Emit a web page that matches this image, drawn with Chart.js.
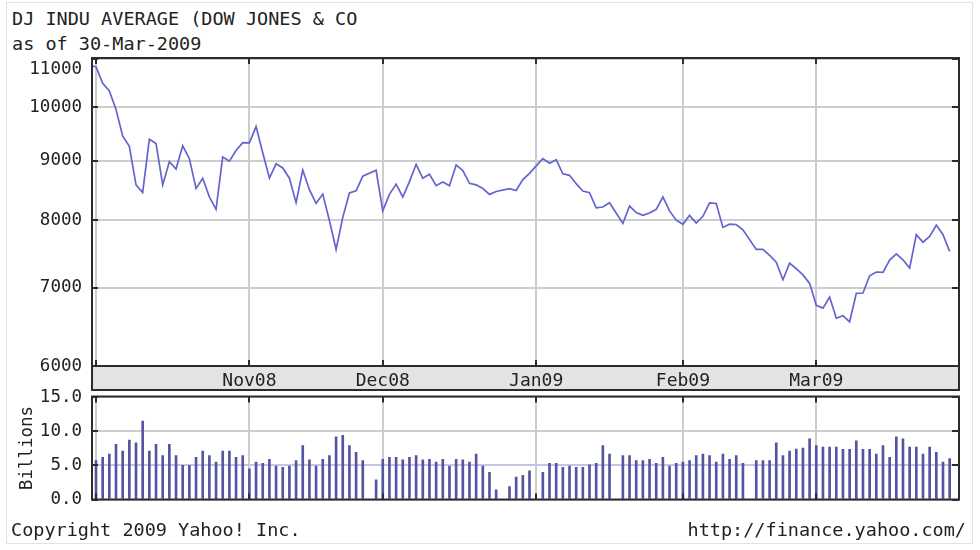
<!DOCTYPE html>
<html>
<head>
<meta charset="utf-8">
<title>DJ INDU AVERAGE</title>
<script src="https://cdn.jsdelivr.net/npm/chart.js@4.4.1/dist/chart.umd.min.js"></script>
<style>
  html, body { margin: 0; padding: 0; background: #fff; }
  body { width: 980px; height: 550px; position: relative; overflow: hidden;
         font-family: "DejaVu Sans Mono", monospace; color: #222; }
  .box { position: absolute; left: 6px; top: 2px; width: 965px; height: 540px; border: 1px solid #e2e2e2; }
  .txt { position: absolute; font-size: 18.5px; line-height: 22px; white-space: pre; }
  canvas { position: absolute; left: 0; }
</style>
</head>
<body>
<div class="box"></div>
<div class="txt" style="left:12px; top:8px;">DJ INDU AVERAGE (DOW JONES &amp; CO</div>
<div class="txt" style="left:12px; top:33px;">as of 30-Mar-2009</div>
<canvas id="price" width="980" height="392" style="top:0;"></canvas>
<canvas id="volume" width="980" height="144" style="top:376px;"></canvas>
<div class="txt" style="left:11px; top:519px;">Copyright 2009 Yahoo! Inc.</div>
<div class="txt" style="right:14px; top:519px;">http://finance.yahoo.com/</div>

<script>
// trading days shown (Sep 30 sits just left of the frame)
const tradeDays = [
  '2008-09-30',
  '2008-10-01','2008-10-02','2008-10-03','2008-10-06','2008-10-07','2008-10-08','2008-10-09','2008-10-10',
  '2008-10-13','2008-10-14','2008-10-15','2008-10-16','2008-10-17','2008-10-20','2008-10-21','2008-10-22',
  '2008-10-23','2008-10-24','2008-10-27','2008-10-28','2008-10-29','2008-10-30','2008-10-31',
  '2008-11-03','2008-11-04','2008-11-05','2008-11-06','2008-11-07','2008-11-10','2008-11-11','2008-11-12',
  '2008-11-13','2008-11-14','2008-11-17','2008-11-18','2008-11-19','2008-11-20','2008-11-21','2008-11-24',
  '2008-11-25','2008-11-26','2008-11-28',
  '2008-12-01','2008-12-02','2008-12-03','2008-12-04','2008-12-05','2008-12-08','2008-12-09','2008-12-10',
  '2008-12-11','2008-12-12','2008-12-15','2008-12-16','2008-12-17','2008-12-18','2008-12-19','2008-12-22',
  '2008-12-23','2008-12-24','2008-12-26','2008-12-29','2008-12-30','2008-12-31',
  '2009-01-02','2009-01-05','2009-01-06','2009-01-07','2009-01-08','2009-01-09','2009-01-12','2009-01-13',
  '2009-01-14','2009-01-15','2009-01-16','2009-01-20','2009-01-21','2009-01-22','2009-01-23','2009-01-26',
  '2009-01-27','2009-01-28','2009-01-29','2009-01-30',
  '2009-02-02','2009-02-03','2009-02-04','2009-02-05','2009-02-06','2009-02-09','2009-02-10','2009-02-11',
  '2009-02-12','2009-02-13','2009-02-17','2009-02-18','2009-02-19','2009-02-20','2009-02-23','2009-02-24',
  '2009-02-25','2009-02-26','2009-02-27',
  '2009-03-02','2009-03-03','2009-03-04','2009-03-05','2009-03-06','2009-03-09','2009-03-10','2009-03-11',
  '2009-03-12','2009-03-13','2009-03-16','2009-03-17','2009-03-18','2009-03-19','2009-03-20','2009-03-23',
  '2009-03-24','2009-03-25','2009-03-26','2009-03-27','2009-03-30'
];

const closes = [
  10851,
  10831, 10482, 10325, 9955, 9447, 9258, 8579, 8451,
  9387, 9310, 8577, 8979, 8852, 9265, 9033, 8519,
  8691, 8378, 8175, 9065, 8990, 9180, 9325,
  9319, 9625, 9139, 8695, 8943, 8870, 8693, 8283,
  8835, 8497, 8273, 8424, 7997, 7552, 8046, 8443,
  8479, 8726, 8829,
  8149, 8419, 8591, 8376, 8635, 8934, 8691, 8761,
  8565, 8629, 8564, 8924, 8824, 8604, 8579, 8519,
  8419, 8468, 8515, 8483, 8668, 8776,
  9034, 8952, 9015, 8769, 8742, 8599, 8474, 8448,
  8200, 8212, 8281, 7949, 8228, 8123, 8077, 8116,
  8174, 8376, 8149, 8001,
  7936, 8078, 7956, 8063, 8280, 8270, 7888, 7939,
  7933, 7850, 7552, 7555, 7466, 7365, 7114, 7351,
  7270, 7182, 7063,
  6763, 6726, 6876, 6594, 6627, 6547, 6926, 6930,
  7170, 7223, 7217, 7395, 7486, 7400, 7279, 7776,
  7660, 7750, 7924, 7776, 7522
];

// volume, billions of shares
const volumes = [
  null,
  5.7, 6.2, 6.65, 8.1, 7.1, 8.7, 8.3, 11.5,
  7.1, 8.1, 6.45, 8.1, 6.45, 5.0, 5.0, 6.2,
  7.1, 6.45, 5.5, 7.1, 7.1, 6.2, 6.45,
  4.5, 5.5, 5.3, 5.9, 4.9, 4.7, 4.9, 5.7,
  7.9, 5.8, 4.9, 5.9, 6.45, 9.2, 9.4, 7.9,
  6.9, 5.7, 2.9,
  5.9, 6.2, 6.2, 5.8, 6.2, 6.45, 5.8, 5.9,
  5.5, 5.9, 4.9, 5.9, 5.8, 5.5, 6.65, 4.9,
  4.0, 1.4, 1.9, 3.3, 3.55, 4.2,
  4.0, 5.3, 5.3, 4.7, 4.9, 4.7, 4.7, 5.1,
  5.3, 7.9, 6.65, 6.45, 6.45, 5.7, 5.7, 5.9,
  5.3, 6.2, 4.9, 5.3,
  5.5, 5.7, 6.45, 6.65, 6.45, 5.5, 6.65, 5.9,
  6.45, 5.3, 5.7, 5.7, 5.7, 8.3, 6.45, 7.1,
  7.4, 7.55, 8.9,
  7.9, 7.7, 7.7, 7.7, 7.35, 7.35, 8.6, 7.35,
  7.35, 6.65, 7.9, 6.2, 9.2, 8.9, 7.7, 7.7,
  6.65, 7.7, 6.9, 5.5, 6.0
];

const monthTickDays = ['2008-10-01', '2008-11-03', '2008-12-01', '2009-01-01', '2009-02-02', '2009-03-02'];
const monthLabels = ['', 'Nov08', 'Dec08', 'Jan09', 'Feb09', 'Mar09'];
const priceTicks = [6000, 7000, 8000, 9000, 10000, 11000];
const volumeTicks = [0, 5, 10, 15];

// x position = count of weekdays since 1 Oct 2008 (holidays stay as gaps)
const DAY = 864e5;
const monday = Date.UTC(2008, 8, 29);
function weekdayCount(iso) {
  const [y, m, d] = iso.split('-').map(Number);
  const n = Math.round((Date.UTC(y, m - 1, d) - monday) / DAY);
  return Math.floor(n / 7) * 5 + Math.min(n % 7, 5);
}
const base = weekdayCount('2008-10-01');
const xOf = iso => weekdayCount(iso) - base;

const monthPos = monthTickDays.map(xOf);
const pricePoints = tradeDays.map((d, i) => ({ x: xOf(d), y: closes[i] }));
const volumePoints = tradeDays.map((d, i) => ({ x: xOf(d), y: volumes[i] }));

const X_MIN = -0.6, X_MAX = 129.4;
const AXIS_W = 92;
const FONT = { family: '"DejaVu Sans Mono", monospace', size: 17.5 };
const GRID = '#cdcdcd';
const FRAME = '#2c2c2c';

Chart.defaults.font.family = FONT.family;
Chart.defaults.color = '#222';

const framePlugin = {
  id: 'frame',
  beforeDraw(chart, args, opts) {
    if (!opts.band) return;
    const { ctx, chartArea: a } = chart;
    ctx.save();
    ctx.fillStyle = '#e3e3e3';
    ctx.fillRect(a.left, a.bottom, a.right - a.left, opts.band);
    ctx.strokeStyle = FRAME;
    ctx.lineWidth = 2;
    ctx.beginPath();
    ctx.moveTo(a.left - 1, a.bottom + opts.band);
    ctx.lineTo(a.right + 1, a.bottom + opts.band);
    ctx.moveTo(a.left, a.bottom);
    ctx.lineTo(a.left, a.bottom + opts.band);
    ctx.moveTo(a.right, a.bottom);
    ctx.lineTo(a.right, a.bottom + opts.band);
    ctx.stroke();
    ctx.restore();
  },
  afterDraw(chart) {
    const { ctx, chartArea: a, scales } = chart;
    ctx.save();
    ctx.strokeStyle = FRAME;
    ctx.lineWidth = 2;
    ctx.strokeRect(a.left, a.top, a.right - a.left, a.bottom - a.top);
    ctx.beginPath();
    scales.x.ticks.forEach(t => {
      const px = Math.round(scales.x.getPixelForValue(t.value));
      ctx.moveTo(px, a.top); ctx.lineTo(px, a.top + 6);
      ctx.moveTo(px, a.bottom); ctx.lineTo(px, a.bottom - 6);
    });
    scales.y.ticks.forEach(t => {
      const py = Math.round(scales.y.getPixelForValue(t.value));
      ctx.moveTo(a.left, py); ctx.lineTo(a.left + 6, py);
      ctx.moveTo(a.right, py); ctx.lineTo(a.right - 7, py);
    });
    ctx.stroke();
    ctx.restore();
  }
};

function xScale(withLabels) {
  return {
    type: 'linear',
    min: X_MIN,
    max: X_MAX,
    offset: false,
    afterBuildTicks: s => { s.ticks = monthPos.map(v => ({ value: v })); },
    ticks: {
      display: withLabels,
      autoSkip: false,
      maxRotation: 0,
      padding: 5,
      font: { family: FONT.family, size: 18 },
      color: '#222',
      callback: (v, i) => monthLabels[i]
    },
    grid: { color: GRID, lineWidth: 2, drawTicks: false, offset: false },
    border: { display: false },
    afterFit: s => { s.height = withLabels ? 24 : 0; }
  };
}

new Chart(document.getElementById('price'), {
  type: 'line',
  data: {
    datasets: [{
      data: pricePoints,
      borderColor: 'rgb(100, 100, 206)',
      borderWidth: 1.7,
      pointRadius: 0,
      tension: 0,
      fill: false
    }]
  },
  options: {
    responsive: false,
    animation: false,
    layout: { padding: { top: 58, right: 21, bottom: 2, left: 0 } },
    plugins: { legend: { display: false }, tooltip: { enabled: false }, frame: { band: 24 } },
    scales: {
      x: xScale(true),
      y: {
        type: 'logarithmic',
        min: 6000,
        max: 11020,
        afterBuildTicks: s => { s.ticks = priceTicks.map(v => ({ value: v })); },
        ticks: {
          font: FONT,
          color: '#222',
          padding: 10,
          // top label sits just below the frame edge, as in the original
          callback: v => (v === 11000 ? ['', String(v)] : String(v))
        },
        grid: { color: GRID, lineWidth: 2, drawTicks: false },
        border: { display: false },
        afterFit: s => { s.width = AXIS_W; }
      }
    }
  },
  plugins: [framePlugin]
});

new Chart(document.getElementById('volume'), {
  type: 'bar',
  data: {
    datasets: [{
      data: volumePoints,
      backgroundColor: 'rgb(84, 84, 160)',
      barThickness: 2,
      grouped: false
    }]
  },
  options: {
    responsive: false,
    animation: false,
    layout: { padding: { top: 14, right: 21, bottom: 7, left: 0 } },
    plugins: { legend: { display: false }, tooltip: { enabled: false }, frame: { band: 0 } },
    scales: {
      x: xScale(false),
      y: {
        type: 'linear',
        min: 0,
        max: 15.1,
        afterBuildTicks: s => { s.ticks = volumeTicks.map(v => ({ value: v })); },
        ticks: { font: FONT, color: '#222', padding: 10, callback: v => v.toFixed(1) },
        grid: {
          color: c => (c.tick && c.tick.value === 5 ? '#c4c4e4' : GRID),
          lineWidth: 2,
          drawTicks: false
        },
        border: { display: false },
        title: {
          display: true,
          text: 'Billions',
          font: FONT,
          color: '#222',
          padding: { top: 17, bottom: 0 }
        },
        afterFit: s => { s.width = AXIS_W; }
      }
    }
  },
  plugins: [framePlugin]
});
</script>
</body>
</html>
